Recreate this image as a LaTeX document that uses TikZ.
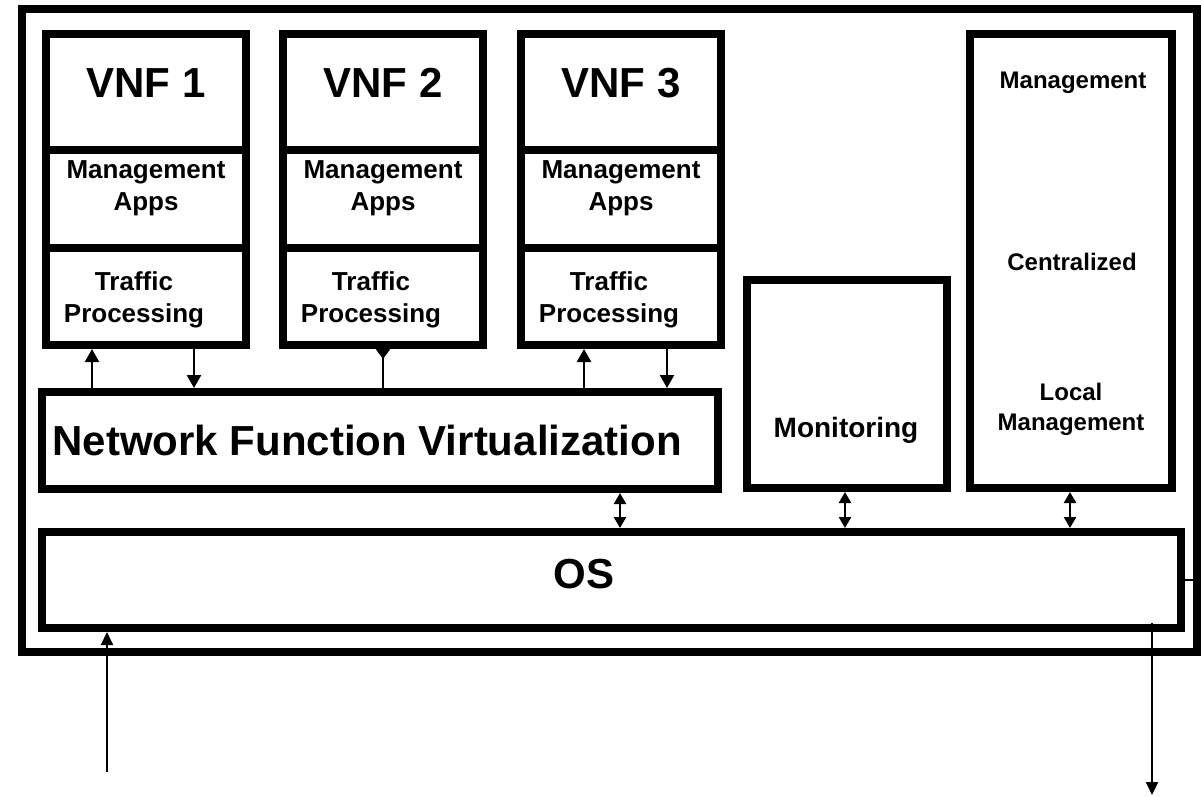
\documentclass[tikz,border=0pt]{standalone}
\usepackage{fontspec}
\setmainfont{Liberation Sans}
\usetikzlibrary{arrows.meta}

\newcommand\fnhuge{\fontsize{42}{48}\selectfont\bfseries}
\newcommand\fnmid{\fontsize{26}{32}\selectfont\bfseries}
\newcommand\fnmon{\fontsize{28}{32}\selectfont\bfseries}
\newcommand\fnsmall{\fontsize{24}{30}\selectfont\bfseries}

\begin{document}
\begin{tikzpicture}[x=1pt,y=-1pt,
  box/.style={draw=black, line width=8pt, fill=none, inner sep=0pt},
  lbl/.style={inner sep=0pt, align=center, anchor=base, text=black},
  tipbig/.style={-{Triangle[width=14pt,length=13pt]}},
  conn/.style={line width=2.5pt},
  dbl/.style={line width=2.5pt, {Triangle[width=12pt,length=11pt]}-{Triangle[width=12pt,length=11pt]}},
  io/.style={line width=2.2pt, -{Triangle[width=12pt,length=13pt]}}]

\useasboundingbox (0,0) rectangle (1201,796);
\fill[white] (0,0) rectangle (1201,796);

% outer frame
\node[box, minimum width=1175pt, minimum height=643pt] (frame) at (609.5,330.5) {};

% VNF stacks: title / management apps / traffic processing
% (two-line labels sit on the baseline of their second line)
\foreach \n/\cx in {1/146, 2/383, 3/621} {
  \node[box, minimum width=200pt, minimum height=116pt] (vnf\n t) at (\cx,92) {};
  \node[box, minimum width=200pt, minimum height=98pt] (vnf\n m) at (\cx,199) {};
  \node[box, minimum width=200pt, minimum height=97pt] (vnf\n b) at (\cx,296.5) {};
  \node[lbl, font=\fnhuge] (vnf\n title) at (\cx,97) {VNF \n};
  \node[lbl, font=\fnmid] (vnf\n apps) at (\cx,210) {Management\\Apps};
  \node[lbl, font=\fnmid] (vnf\n traffic) at (\cx-12,322) {Traffic\\Processing};
}

% middle layer
\node[box, minimum width=676pt, minimum height=97pt] (nfv) at (380,440.5) {};
\node[lbl, font=\fnhuge] (nfvtext) at (367,455) {Network Function Virtualization};

\node[box, minimum width=200pt, minimum height=208pt] (mon) at (847,384) {};
\node[lbl, font=\fnmon] (montext) at (846,437) {Monitoring};

\node[box, minimum width=202pt, minimum height=454pt] (mgmt) at (1071,261) {};
\node[lbl, font=\fnsmall] (mgmttop) at (1073,88) {Management};
\node[lbl, font=\fnsmall] (mgmtcen) at (1072,270) {Centralized};
\node[lbl, font=\fnsmall] (mgmtloc) at (1071,430) {Local\\Management};

% operating system
\node[box, minimum width=1139pt, minimum height=96pt] (os) at (611.5,580) {};
\node[lbl, font=\fnhuge] (ostext) at (584,588) {OS};

% connector columns
\coordinate (c1) at (92,0);
\coordinate (c2) at (194,0);
\coordinate (c3) at (383,0);
\coordinate (c4) at (584,0);
\coordinate (c5) at (667,0);
\coordinate (c6) at (620,0);
\coordinate (c7) at (845,0);
\coordinate (c8) at (1070,0);
\coordinate (inlet) at (107,772);
\coordinate (outlet) at (1152,795);
\coordinate (osout) at (1152,623);

% VNFs <-> virtualization layer
\draw[conn, tipbig] (nfv.north -| c1) -- (vnf1b.south -| c1);
\draw[conn, tipbig] (vnf1b.south -| c2) -- (nfv.north -| c2);
\draw[conn, {Triangle[reversed,width=14pt,length=10pt]}-] (vnf2b.south -| c3) -- (nfv.north -| c3);
\draw[conn, tipbig] (nfv.north -| c4) -- (vnf3b.south -| c4);
\draw[conn, tipbig] (vnf3b.south -| c5) -- (nfv.north -| c5);

% layers <-> OS
\draw[dbl] (nfv.south -| c6) -- (os.north -| c6);
\draw[dbl] (mon.south -| c7) -- (os.north -| c7);
\draw[dbl] (mgmt.south -| c8) -- (os.north -| c8);

% traffic in and out
\draw[io] (inlet) -- (os.south -| inlet);
\draw[io] (osout) -- (outlet);
\draw[line width=2pt] (os.east |- 0,580) -- (frame.east |- 0,580);

\end{tikzpicture}
\end{document}
